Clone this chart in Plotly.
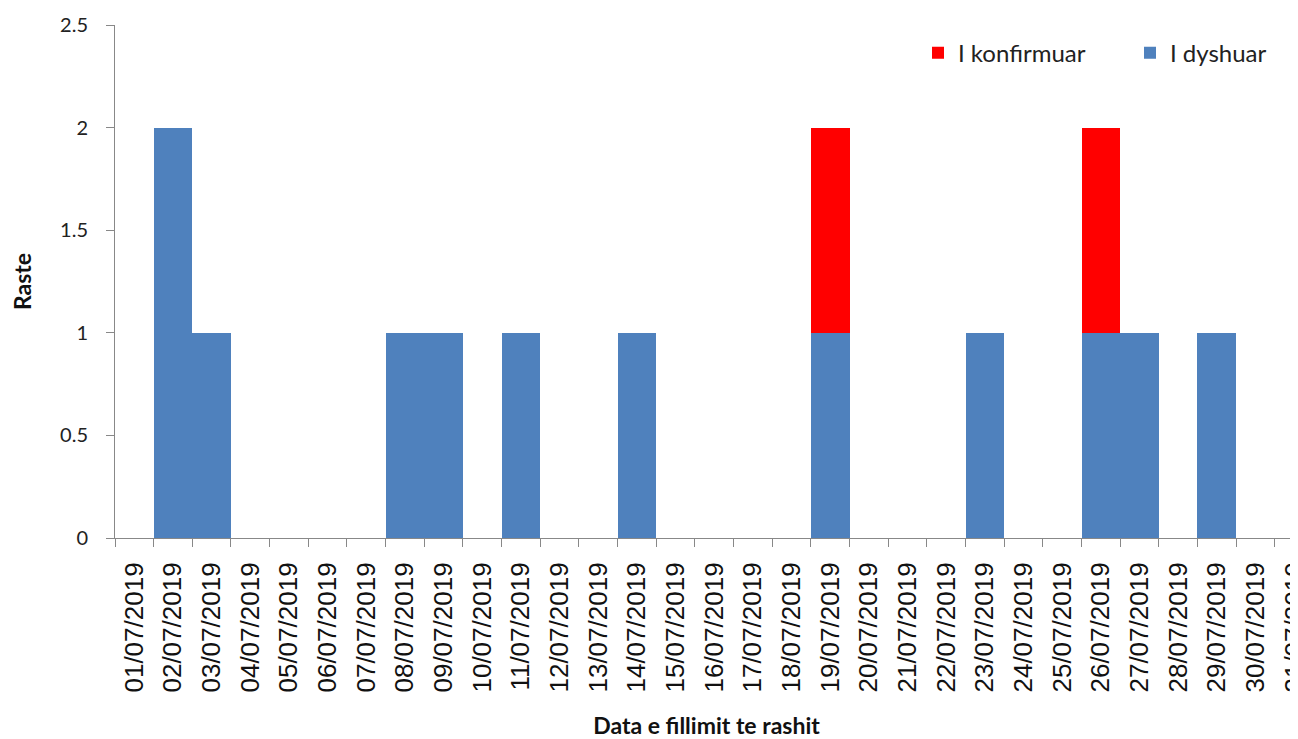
import plotly.graph_objects as go

dates = [f"{d:02d}/07/2019" for d in range(1, 32)]
dyshuar = [0, 2, 1, 0, 0, 0, 0, 1, 1, 0, 1, 0, 0, 1, 0, 0, 0, 0, 1, 0, 0, 0, 1, 0, 0, 1, 1, 0, 1, 0, 0]
konfirmuar = [0, 0, 0, 0, 0, 0, 0, 0, 0, 0, 0, 0, 0, 0, 0, 0, 0, 0, 1, 0, 0, 0, 0, 0, 0, 1, 0, 0, 0, 0, 0]

fig = go.Figure()
fig.add_trace(go.Bar(x=dates, y=dyshuar, name="I dyshuar", legend="legend2",
                     marker=dict(color="#4F81BD", line=dict(width=0))))
fig.add_trace(go.Bar(x=dates, y=konfirmuar, name="I konfirmuar", legend="legend",
                     marker=dict(color="#FF0000", line=dict(width=0))))

leg_common = dict(orientation="h", xanchor="left", y=0.945, yanchor="middle",
                  font=dict(size=24, family="Lato", color="#222"),
                  bgcolor="rgba(0,0,0,0)", itemwidth=30)

fig.update_layout(
    barmode="stack",
    bargap=0,
    width=1290, height=731,
    margin=dict(l=107, r=0, t=17, b=201),
    plot_bgcolor="white", paper_bgcolor="white",
    font=dict(family="Lato, Liberation Sans, sans-serif", color="#222"),
    legend=dict(x=(918 - 115) / 1183, **leg_common),
    legend2=dict(x=(1130 - 115) / 1183, **leg_common),
    showlegend=True,
)
fig.update_xaxes(
    type="category", range=[-0.5, 30.1], automargin=False,
    tickson="boundaries", ticks="outside", ticklen=8, tickcolor="#888",
    showline=True, linecolor="#888", linewidth=1, showgrid=False,
    tickangle=-90, tickfont=dict(size=26, family="Liberation Sans", color="#111"),
    ticklabelstandoff=13,
    title=dict(text="<b>Data e fillimit te rashit</b>", font=dict(size=23, family="Lato", color="#111"), standoff=27),
)
fig.update_yaxes(
    range=[0, 2.5], dtick=0.5, ticks="outside", ticklen=8, tickcolor="#888",
    showline=True, linecolor="#888", linewidth=1, showgrid=False, zeroline=False,
    automargin=False,
    tickfont=dict(size=20, family="Lato", color="#222"),
    ticklabelstandoff=14,
    title=dict(text="<b>Raste</b>", font=dict(size=23, family="Lato", color="#111"), standoff=24),
)

fig.write_html("out.html")
